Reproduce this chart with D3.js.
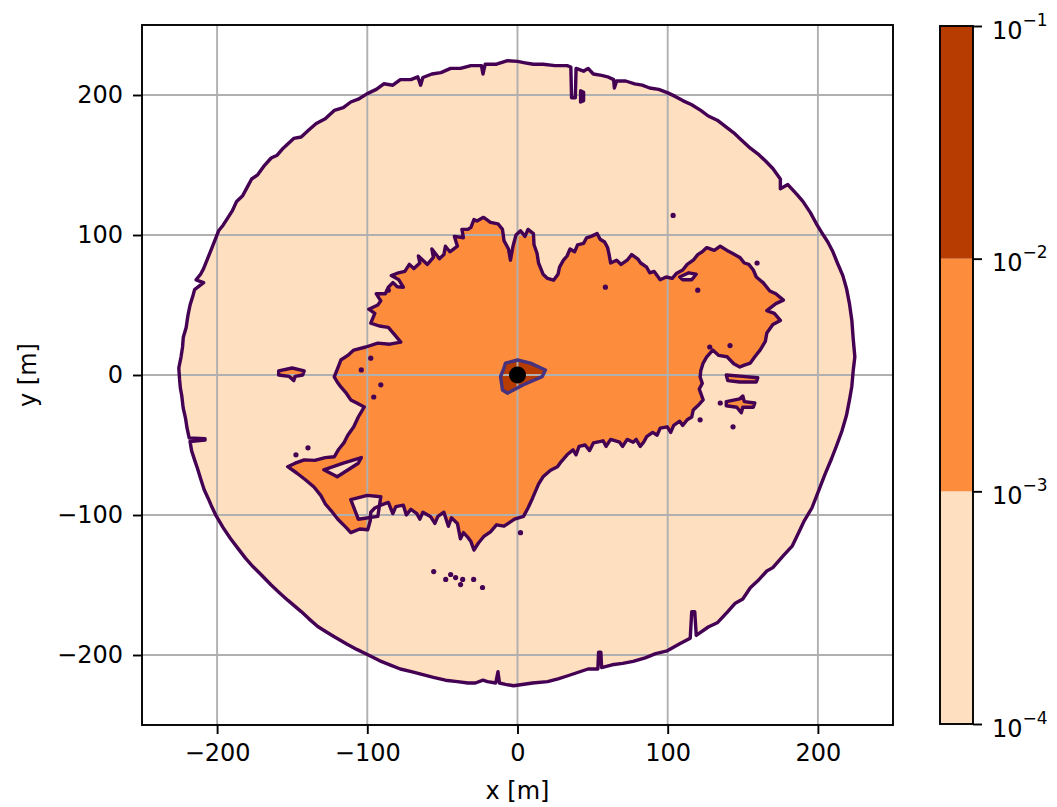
<!DOCTYPE html>
<html>
<script src="https://d3js.org/d3.v7.min.js"></script>
<style>
    body {
        margin: 0;
        background: white;
    }

    text {
        font-family: "DejaVu Sans", sans-serif;
    }
</style>

<body></body>
<script>
    // ticks and contour levels
    const xTicks = [-200, -100, 0, 100, 200];
    const yTicks = [-200, -100, 0, 100, 200];
    const levels = [1e-4, 1e-3, 1e-2, 1e-1];
    const levelExp = ["−4", "−3", "−2", "−1"];

    // contour 1e-4 : outer edge of the footprint, [x, y] in m
    const outerEdge = [
        [-225, -3], [-225.5, 5], [-224, 13], [-223, 20], [-222.5, 27], [-220.6, 34], [-219.5, 42], [-218, 50],
        [-216, 57], [-215, 61], [-209, 66], [-214, 68], [-211, 72], [-209, 76], [-206, 84], [-203, 92],
        [-199, 103], [-196, 107], [-193, 112], [-190, 117], [-187, 124], [-183, 128], [-180, 134], [-177, 140],
        [-173, 143], [-169, 149], [-164, 155], [-160, 157], [-156, 162], [-149, 169], [-144, 170], [-139, 175],
        [-134, 179.6], [-128, 183], [-122, 189], [-116, 191], [-111, 195], [-106, 197], [-100, 201], [-94, 204],
        [-89, 208], [-83, 207], [-78, 211], [-71, 211], [-66.4, 213], [-64.5, 207], [-63, 212.5], [-57, 215],
        [-51, 216], [-44.5, 219], [-38, 219], [-31, 221], [-24, 221], [-23, 215], [-21.5, 222], [-14, 222],
        [-6.6, 224.5], [0, 224], [5, 223], [10.6, 222], [17, 222], [25, 221], [33, 221], [35.5, 220],
        [36, 198], [38.5, 198], [39, 219], [44, 217], [47, 219], [50.5, 215], [56, 214], [60, 213],
        [64, 211], [64.5, 205], [66, 210], [72, 210], [78, 208], [83, 207], [88, 205], [94, 204],
        [99.7, 201.7], [105, 199], [110, 196], [116, 193], [122, 189], [127, 185], [133, 182], [139, 177],
        [144, 173], [148, 169], [155, 162], [160, 158], [165, 153], [170, 147.5], [175, 140], [175, 133],
        [180, 136], [186, 129], [190, 124], [195, 116], [199, 108], [203, 101], [206.6, 95], [210, 88],
        [213, 80], [216.6, 71], [219, 62], [221, 51], [222.6, 39], [223.5, 26], [224.6, 13], [223.5, 3],
        [222.6, -8], [221, -18], [219, -29], [216, -40], [212.6, -50], [209, -60], [204.7, -71], [200, -84],
        [196, -95], [191, -104], [187, -113], [183, -122], [177, -129], [170, -137.6], [166, -140], [160, -147],
        [155, -152], [150, -160], [145, -163], [140, -169], [133, -177], [127, -180], [119, -186], [118, -169],
        [116, -169], [115, -188], [108, -192], [99.7, -197], [92, -199], [85, -202], [77, -204.5], [70, -206],
        [63, -207], [56, -209], [55.5, -198], [54, -198], [53.5, -210], [47, -210], [40, -212.5], [33, -215],
        [27, -217], [20, -219], [10, -220], [-2.6, -222], [-8, -221], [-12, -220], [-13, -212], [-14.5, -220],
        [-20, -219], [-23, -218], [-28, -220], [-33, -220], [-40, -219], [-48, -218], [-56, -216], [-63, -214],
        [-70, -212], [-78, -210], [-85, -207], [-92, -204], [-100, -199.6], [-107, -196], [-114, -192],
        [-122, -187], [-128, -183], [-133, -179.6], [-139, -174], [-144, -169], [-152.8, -161], [-158, -156],
        [-164, -150], [-170.8, -142.5], [-176, -137], [-181, -131], [-186, -124], [-191, -117], [-196, -109],
        [-200.7, -100.5], [-204, -93], [-206, -88], [-208.6, -82], [-211, -74], [-213, -67], [-215, -60.6],
        [-217, -54], [-218, -47.5], [-208, -46.5], [-208, -45.5], [-218.6, -45], [-220, -38], [-221, -31],
        [-222.6, -23.5], [-223.5, -15], [-224.5, -9]
    ];

    // contour 1e-3 : main plume
    const plumeEdge = [
        [-13, 108], [-10, 104], [-9, 96], [-6, 90], [-4.7, 82], [-3, 92], [-1, 100], [2, 103], [5, 99],
        [7, 104], [10.6, 101], [11, 93], [13, 87], [14, 80], [17, 72], [20, 69], [24, 67.7], [27, 72],
        [28, 77], [30.6, 82], [33, 85], [35, 90], [38, 88], [40, 93], [44, 94], [46, 98], [49, 99],
        [53, 101], [55, 97], [58, 95], [60, 91], [61, 86], [62, 80], [66, 82], [69, 79], [73, 82],
        [76, 86], [80, 83], [82, 80], [86, 77], [88, 73], [91, 74], [95, 68], [99, 70], [103, 69],
        [106, 72.7], [110, 75], [113, 79], [117, 82], [120, 86], [123, 88], [126, 91], [131, 89],
        [135, 92], [139.5, 89], [143, 87], [148, 84], [151, 80], [154, 79], [157, 75], [159, 70],
        [163.5, 66], [168, 60], [172, 58], [177, 53.5], [172, 51], [166, 46], [171, 44], [175, 39],
        [170, 36], [166, 30], [165, 24], [161.5, 17.8], [158, 13], [155, 8.5], [151, 7], [148, 5.7],
        [144, 8], [139.5, 13], [134, 14], [130, 17.8], [126, 13], [123.6, 8.5], [122, 3], [121.6, -1.4],
        [123, -6], [121, -10], [123.6, -17.8], [120, -22], [117, -25], [116, -30], [113, -32], [110, -36],
        [108, -33], [104, -36], [102, -41], [99.7, -37], [95, -38], [93, -43], [90, -41], [86, -44],
        [84, -48], [81.7, -51], [79, -46], [77, -48], [73, -46], [70, -51], [68, -48], [62, -46], [59, -51],
        [57, -47], [50.5, -48.5], [48, -54], [45, -50], [41, -51], [39, -57], [37, -53.5], [33, -57],
        [29, -62], [26.6, -65.6], [22, -68], [17, -72.7], [14, -78], [10, -88], [7, -95], [4, -101],
        [-2, -103], [-9, -108], [-14, -107], [-18, -112], [-22.6, -115.5], [-26, -120], [-29, -125],
        [-31, -119], [-33, -116], [-36, -112.6], [-38, -117], [-40, -106], [-44, -102], [-46, -108],
        [-49, -98], [-53, -101], [-55, -106], [-58, -101], [-63, -98], [-65, -103], [-67, -99], [-71, -96],
        [-74, -100], [-76, -93], [-81, -94], [-83, -99], [-86, -91], [-91, -93], [-95, -95], [-97.7, -98],
        [-98, -104], [-99.7, -110.5], [-105, -110], [-111, -112.6], [-114, -109], [-119.6, -103],
        [-124, -97], [-128, -92], [-131, -86], [-135.5, -80], [-141, -75], [-147, -70], [-153, -65.5],
        [-148, -63], [-142, -60.6], [-135, -61], [-128, -59], [-122, -58.4], [-119, -53], [-115.6, -48.5],
        [-113, -43], [-109, -37], [-106, -30], [-102, -22.8], [-107, -20], [-111, -17.8], [-114, -13],
        [-117.6, -8.5], [-120, -5], [-122, -1.4], [-120, 4], [-117.6, 10.7], [-113, 14], [-109, 17.8],
        [-101, 20], [-93, 22.8], [-85, 22], [-77.7, 23.5], [-82, 29], [-86, 34], [-92, 35], [-97.7, 37],
        [-95, 44], [-99, 47], [-93, 50], [-91, 53], [-94, 58], [-88, 58], [-86, 62.7], [-83, 66], [-80, 63],
        [-76, 62.7], [-79, 68], [-84, 71], [-80, 72.7], [-75, 74], [-72, 79], [-69, 76], [-65, 80],
        [-66, 85], [-60, 79], [-56, 84], [-57, 90], [-52, 83], [-49, 86], [-48, 92], [-45, 88], [-40, 92],
        [-42, 99], [-36, 98], [-37, 104], [-33, 104], [-31, 105.5], [-29, 111], [-27, 110], [-22.6, 112.6],
        [-18, 109]
    ];

    // light gaps inside the plume
    const plumeHoles = [
        [[-129, -67.7], [-116, -63], [-104, -59], [-106, -63], [-120, -72.7]],
        [[-111, -89], [-100, -86], [-91, -87], [-93, -101], [-106, -103]],
        [[108, 70], [114, 73], [119, 72], [116, 68], [110, 68]]
    ];

    // detached patches above 1e-3
    const plumeIslands = [
        [[-159, 3], [-150, 5], [-142, 3], [-143, 0], [-148, -1], [-149, -4], [-152, -1], [-159, 0]],
        [[139, 0], [150, -1], [160, -2], [159, -5], [148, -5], [140, -4]],
        [[139, -19], [148, -17], [150, -15], [151, -19], [158, -20], [157, -23], [150, -23], [149, -27], [146, -23], [139, -22]],
        [[42, 203], [44, 202], [44, 196], [42, 195]]
    ];

    // tiny specks of the 1e-3 contour
    const specks = [
        [-55.8, -140.4], [-47.8, -146], [-44.5, -142.5], [-41.2, -144.7], [-36.5, -146], [-37.9, -149.7],
        [-29.2, -146], [-23.3, -151.8], [-97.7, 12], [-91, -7], [-95.7, -15.7], [-104, 3.6],
        [-139.5, -52], [-147.5, -57], [2, -112.6], [-86, 60.6], [143.5, -37], [135, -20], [121.6, -32],
        [128, 20], [141.5, 21], [159.5, 80], [103.6, 114], [58.5, 62.7], [120, 60.6]
    ];

    // contour 1e-2 : core near the source
    const coreEdge = [
        [-8, 8.5], [0, 10.7], [8.6, 8.5], [18.6, 3.6], [16.4, -1.2], [4, -7], [-6.8, -13], [-10, -10.7],
        [-11.3, -1.2], [-9, 5]
    ];
    const source = [0, 0];

    const width = 1057,
        height = 807;
    const colors = ["#fedfc0", "#fd8d3c", "#b73c02"];
    const lineColors = ["#440154", "#440154", "#46327e"];

    const svg = d3.select("body").append("svg").attr("width", width).attr("height", height);

    const x = d3.scaleLinear().domain([-250, 250]).range([142, 893]);
    const y = d3.scaleLinear().domain([-250, 250]).range([725, 25]);
    const line = d3.line().x(d => x(d[0])).y(d => y(d[1])).curve(d3.curveLinearClosed);

    // filled bands
    const fills = svg.append("g");
    fills.append("path").attr("d", line(outerEdge)).attr("fill", colors[0]);
    fills.append("path").attr("d", line(plumeEdge)).attr("fill", colors[1]);
    fills.selectAll(".hole").data(plumeHoles).join("path")
        .attr("d", line).attr("fill", colors[0]);
    fills.selectAll(".island").data(plumeIslands).join("path")
        .attr("d", line).attr("fill", colors[1]);
    fills.append("path").attr("d", line(coreEdge)).attr("fill", colors[2]);

    // grid
    const grid = svg.append("g").attr("stroke", "#b0b0b0").attr("stroke-width", 1.9);
    grid.selectAll(".gx").data(xTicks).join("line")
        .attr("x1", d => x(d)).attr("x2", d => x(d)).attr("y1", y(-250)).attr("y2", y(250));
    grid.selectAll(".gy").data(yTicks).join("line")
        .attr("y1", d => y(d)).attr("y2", d => y(d)).attr("x1", x(-250)).attr("x2", x(250));

    // contour lines
    const lines = svg.append("g").attr("fill", "none").attr("stroke-width", 3.4)
        .attr("stroke-linejoin", "round");
    lines.append("path").attr("d", line(outerEdge)).attr("stroke", lineColors[0]);
    lines.append("path").attr("d", line(plumeEdge)).attr("stroke", lineColors[1]);
    lines.selectAll(".hole").data(plumeHoles.concat(plumeIslands)).join("path")
        .attr("d", line).attr("stroke", lineColors[1]);
    svg.append("g").selectAll("circle").data(specks).join("circle")
        .attr("cx", d => x(d[0])).attr("cy", d => y(d[1])).attr("r", 2.6).attr("fill", lineColors[1]);
    lines.append("path").attr("d", line(coreEdge)).attr("stroke", lineColors[2]);

    svg.append("circle")
        .attr("cx", x(source[0])).attr("cy", y(source[1])).attr("r", 8.5).attr("fill", "black");

    // axes
    const xAxis = svg.append("g")
        .attr("transform", `translate(0,${y(-250)})`)
        .call(d3.axisBottom(x).tickValues(xTicks).tickSize(9).tickPadding(10));
    const yAxis = svg.append("g")
        .attr("transform", `translate(${x(-250)},0)`)
        .call(d3.axisLeft(y).tickValues(yTicks).tickSize(9).tickPadding(10));
    [xAxis, yAxis].forEach(a => {
        a.select(".domain").remove();
        a.selectAll(".tick line").attr("stroke-width", 1.9);
        a.selectAll(".tick text").attr("font-size", 24).attr("font-family", "DejaVu Sans").attr("fill", "black");
    });
    svg.append("rect")
        .attr("x", x(-250)).attr("y", y(250))
        .attr("width", x(250) - x(-250)).attr("height", y(-250) - y(250))
        .attr("fill", "none").attr("stroke", "black").attr("stroke-width", 1.9);

    svg.append("text")
        .attr("x", x(0)).attr("y", 799)
        .attr("text-anchor", "middle").attr("font-size", 24).attr("fill", "black")
        .text("x [m]");
    svg.append("text")
        .attr("transform", `translate(36,${y(0)}) rotate(-90)`)
        .attr("text-anchor", "middle").attr("font-size", 24).attr("fill", "black")
        .text("y [m]");

    // colorbar
    const c = d3.scaleLog().domain([1e-4, 1e-1]).range([724, 26]);
    const cbar = svg.append("g");
    cbar.selectAll("rect").data(d3.pairs(levels)).join("rect")
        .attr("x", 940).attr("width", 33)
        .attr("y", d => c(d[1])).attr("height", d => c(d[0]) - c(d[1]))
        .attr("fill", (d, i) => colors[i]);
    cbar.append("rect")
        .attr("x", 940).attr("width", 33).attr("y", c(1e-1)).attr("height", c(1e-4) - c(1e-1))
        .attr("fill", "none").attr("stroke", "black").attr("stroke-width", 1.9);
    const cAxis = svg.append("g")
        .attr("transform", "translate(973,0)")
        .call(d3.axisRight(c).tickValues(levels).tickSize(9).tickPadding(10).tickFormat(() => ""));
    cAxis.select(".domain").remove();
    cAxis.selectAll(".tick line").attr("stroke-width", 1.9);
    cAxis.selectAll(".tick text")
        .attr("font-size", 24).attr("fill", "black").attr("dy", "0.5em")
        .each(function (d, i) {
            const t = d3.select(this);
            t.append("tspan").text("10");
            t.append("tspan").attr("font-size", 17).attr("dy", "-0.75em").text(levelExp[i]);
        });
</script>

</html>
